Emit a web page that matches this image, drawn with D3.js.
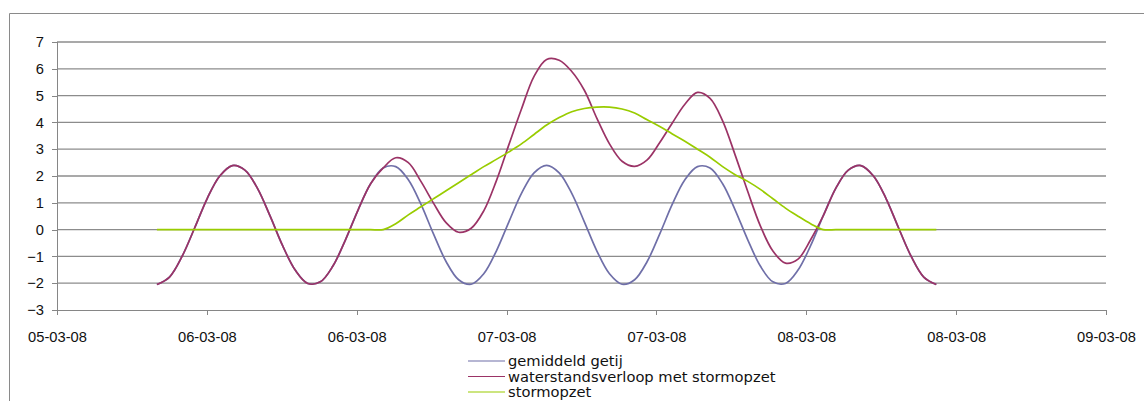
<!DOCTYPE html>
<html>
<head>
<meta charset="utf-8">
<style>
  body { margin: 0; background: #fff; }
  svg { display: block; font-family: "DejaVu Sans", sans-serif; }
  .axis text { font-size: 14.7px; fill: #111; }
  .axis path, .axis line { stroke: #868686; shape-rendering: crispEdges; }
  .grid line { stroke: #8c8c8c; stroke-width: 1.3; }
  .legend text { font-size: 14.7px; fill: #111; }
</style>
</head>
<body>
<script src="https://cdn.jsdelivr.net/npm/d3@7"></script>
<script>

// time axis: 05-03-08 12:00 .. 09-03-08 00:00, ticks every 12 hours
var axisStart = new Date(2008, 2, 5, 12, 0);
var axisEnd = new Date(2008, 2, 9, 0, 0);
var firstSample = new Date(2008, 2, 5, 20, 0);
var stepMinutes = 60.4;

var yTicks = [-3, -2, -1, 0, 1, 2, 3, 4, 5, 6, 7];
var seriesNames = ["gemiddeld getij", "waterstandsverloop met stormopzet", "stormopzet"];
var seriesColors = ["#6f6fa8", "#9b3366", "#99cc00"];

var gemiddeldGetij = [-2.05, -1.77, -1.00, 0.06, 1.16, 2.00, 2.39, 2.22, 1.54, 0.51,
  -0.60, -1.51, -2.01, -1.95, -1.36, -0.38, 0.73, 1.71, 2.30, 2.35,
  1.86, 0.95, -0.16, -1.19, -1.87, -2.04, -1.65, -0.80, 0.29, 1.35,
  2.12, 2.40, 2.12, 1.35, 0.29, -0.80, -1.65, -2.04, -1.87, -1.19,
  -0.16, 0.95, 1.86, 2.35, 2.30, 1.71, 0.73, -0.38, -1.36, -1.95,
  -2.01, -1.51, -0.60, 0.51, 1.54, 2.22, 2.39, 2.00, 1.16, 0.06,
  -1.00, -1.77, -2.05];

var waterstand = [-2.05, -1.77, -1.00, 0.06, 1.16, 2.00, 2.39, 2.22, 1.54, 0.51,
  -0.60, -1.51, -2.01, -1.95, -1.36, -0.38, 0.73, 1.71, 2.30, 2.68,
  2.50, 1.80, 0.99, 0.26, -0.10, 0.05, 0.70, 1.82, 3.17, 4.50,
  5.72, 6.35, 6.32, 5.90, 5.20, 4.15, 3.20, 2.55, 2.36, 2.60,
  3.25, 3.98, 4.68, 5.12, 4.90, 4.06, 2.78, 1.42, 0.14, -0.80,
  -1.25, -1.10, -0.38, 0.51, 1.54, 2.22, 2.39, 2.00, 1.16, 0.06,
  -1.00, -1.77, -2.05];

var stormopzet = [0, 0, 0, 0, 0, 0, 0, 0, 0, 0,
  0, 0, 0, 0, 0, 0, 0, 0, 0, 0.22,
  0.55, 0.85, 1.15, 1.45, 1.75, 2.05, 2.35, 2.62, 2.90, 3.20,
  3.55, 3.90, 4.18, 4.40, 4.52, 4.57, 4.57, 4.50, 4.35, 4.10,
  3.85, 3.57, 3.30, 3.00, 2.70, 2.35, 2.05, 1.80, 1.50, 1.15,
  0.80, 0.50, 0.22, 0, 0, 0, 0, 0, 0, 0,
  0, 0, 0];

var W = 1144, H = 401;
var plot = {left: 57, right: 1106, top: 42, bottom: 310};

var svg = d3.select("body").append("svg")
    .attr("width", W)
    .attr("height", H);

svg.append("rect").attr("width", W).attr("height", H).attr("fill", "#fff");

// chart border (only top and left visible)
svg.append("path")
    .attr("d", "M9.5," + H + "V13.5H" + W)
    .attr("fill", "none")
    .attr("stroke", "#8a8a8a");

var x = d3.scaleTime().domain([axisStart, axisEnd]).range([plot.left, plot.right]);
var y = d3.scaleLinear().domain([-3, 7]).range([plot.bottom, plot.top]);

svg.append("g")
    .attr("class", "grid")
    .selectAll("line")
    .data(yTicks.filter(function(d) { return d > -3; }))
    .enter().append("line")
    .attr("x1", plot.left)
    .attr("x2", plot.right)
    .attr("y1", function(d) { return y(d); })
    .attr("y2", function(d) { return y(d); });

var yAxis = d3.axisLeft(y).tickValues(yTicks).tickSize(5).tickPadding(8).tickFormat(d3.format("d"));
svg.append("g")
    .attr("class", "axis")
    .attr("transform", "translate(" + plot.left + ",0)")
    .call(yAxis);

var xAxis = d3.axisBottom(x)
    .ticks(d3.timeHour.every(12))
    .tickSize(5)
    .tickSizeOuter(0)
    .tickPadding(17)
    .tickFormat(d3.timeFormat("%d-%m-%y"));
svg.append("g")
    .attr("class", "axis")
    .attr("transform", "translate(0," + plot.bottom + ")")
    .call(xAxis);

function sampleTime(i) {
  return new Date(firstSample.getTime() + i * stepMinutes * 60000);
}

var line = d3.line()
    .x(function(d, i) { return x(sampleTime(i)); })
    .y(function(d) { return y(d); })
    .curve(d3.curveCatmullRom);

[gemiddeldGetij, waterstand, stormopzet].forEach(function(s, k) {
  svg.append("path")
      .datum(s)
      .attr("fill", "none")
      .attr("stroke", seriesColors[k])
      .attr("stroke-width", 1.7)
      .attr("d", line);
});

// legend (bottom row sits right at the lower edge, as in the original)
var legend = svg.append("g").attr("class", "legend");
seriesNames.forEach(function(name, k) {
  var ly = 361 + k * 15.5;
  legend.append("line")
      .attr("x1", 468).attr("x2", 505)
      .attr("y1", ly).attr("y2", ly)
      .attr("stroke", seriesColors[k])
      .attr("stroke-width", 1.2);
  legend.append("text")
      .attr("x", 508)
      .attr("y", ly + 5)
      .text(name);
});

</script>
</body>
</html>
